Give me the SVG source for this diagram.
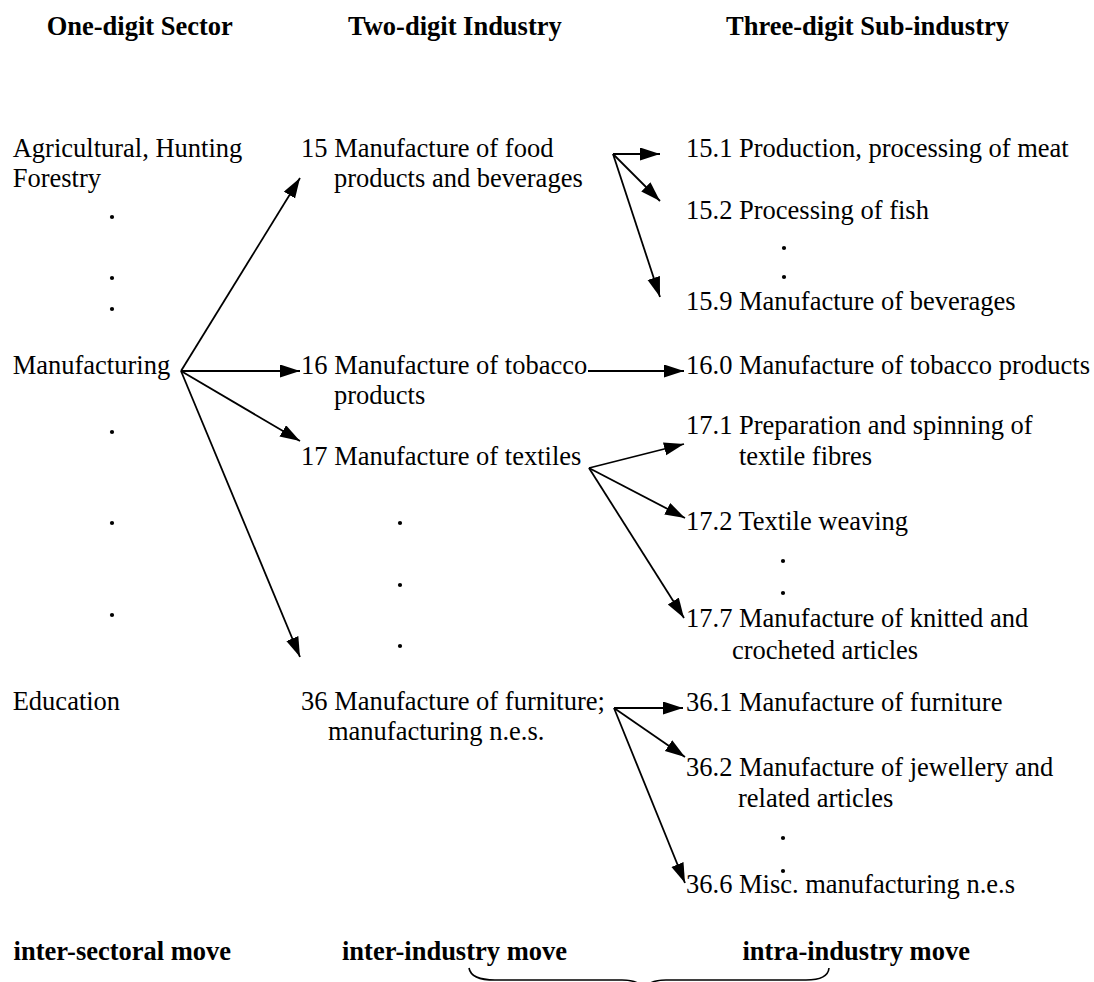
<svg xmlns="http://www.w3.org/2000/svg" width="1094" height="982" viewBox="0 0 1094 982">
<defs>
<style>
text{font-family:"Liberation Serif","Times New Roman",serif;font-size:26.5px;fill:#000}
.b{font-weight:bold}
.c line{stroke:#000;stroke-width:1.8;fill:none}
.brace{stroke:#000;stroke-width:1.6;fill:none}
.d circle{fill:#000}
</style>
<marker id="ah" markerUnits="userSpaceOnUse" markerWidth="21" markerHeight="14" refX="20" refY="6.5" orient="auto">
<path d="M0,0 L20,6.5 L0,13 z" fill="#000"/>
</marker>
</defs>
<rect width="1094" height="982" fill="#fff"/>
<g id="headers">
<text class="b" x="46.7" y="35">One-digit Sector</text>
<text class="b" x="348" y="35">Two-digit Industry</text>
<text class="b" x="726" y="35">Three-digit Sub-industry</text>
</g>
<g id="sector-agri"><text x="12.7" y="157">Agricultural, Hunting</text><text x="12.7" y="187">Forestry</text></g>
<g id="sector-dots1" class="d"><circle cx="112" cy="217" r="2.1"/><circle cx="112" cy="278" r="2.1"/><circle cx="112" cy="309" r="2.1"/></g>
<g id="sector-manufacturing"><text x="12.7" y="374">Manufacturing</text></g>
<g id="sector-dots2" class="d"><circle cx="112" cy="432" r="2.1"/><circle cx="112" cy="523" r="2.1"/><circle cx="112" cy="615" r="2.1"/></g>
<g id="sector-education"><text x="12.7" y="710">Education</text></g>
<g id="ind-15"><text x="301" y="157">15 Manufacture of food</text><text x="334" y="187">products and beverages</text></g>
<g id="ind-16"><text x="301" y="374">16 Manufacture of tobacco</text><text x="334" y="404">products</text></g>
<g id="ind-17"><text x="301" y="465">17 Manufacture of textiles</text></g>
<g id="ind-dots" class="d"><circle cx="400" cy="523" r="2.1"/><circle cx="400" cy="585" r="2.1"/><circle cx="400" cy="646" r="2.1"/></g>
<g id="ind-36"><text x="301" y="710">36 Manufacture of furniture;</text><text x="328" y="740">manufacturing n.e.s.</text></g>
<g id="sub-15-1"><text x="686" y="157">15.1 Production, processing of meat</text></g>
<g id="sub-15-2"><text x="686" y="219">15.2 Processing of fish</text></g>
<g id="sub-15-dots" class="d"><circle cx="784" cy="248" r="2.1"/><circle cx="784" cy="277" r="2.1"/></g>
<g id="sub-15-9"><text x="686" y="310">15.9 Manufacture of beverages</text></g>
<g id="sub-16-0"><text x="686" y="374">16.0 Manufacture of tobacco products</text></g>
<g id="sub-17-1"><text x="686" y="434">17.1 Preparation and spinning of</text><text x="739" y="465">textile fibres</text></g>
<g id="sub-17-2"><text x="686" y="530">17.2 Textile weaving</text></g>
<g id="sub-17-dots" class="d"><circle cx="783" cy="561" r="2.1"/><circle cx="783" cy="593" r="2.1"/></g>
<g id="sub-17-7"><text x="686" y="627">17.7 Manufacture of knitted and</text><text x="732" y="659">crocheted articles</text></g>
<g id="sub-36-1"><text x="686" y="711">36.1 Manufacture of furniture</text></g>
<g id="sub-36-2"><text x="686" y="776">36.2 Manufacture of jewellery and</text><text x="738" y="807">related articles</text></g>
<g id="sub-36-dots" class="d"><circle cx="783" cy="838" r="2.1"/><circle cx="783" cy="871" r="2.1"/></g>
<g id="sub-36-6"><text x="686" y="893">36.6 Misc. manufacturing n.e.s</text></g>
<g id="moves">
<text class="b" x="13.6" y="960">inter-sectoral move</text>
<text class="b" x="342" y="960">inter-industry move</text>
<text class="b" x="742.5" y="960">intra-industry move</text>
<path class="brace" d="M469,968 Q471,980 495,980 L622,980 Q640,980 644,990 Q648,980 666,980 L806,980 Q828,980 829,968"/>
</g>
<g id="connectors" class="c">
<line x1="181" y1="371" x2="300" y2="178" marker-end="url(#ah)"/>
<line x1="181" y1="371" x2="300" y2="371" marker-end="url(#ah)"/>
<line x1="181" y1="371" x2="300" y2="441" marker-end="url(#ah)"/>
<line x1="181" y1="371" x2="300" y2="657" marker-end="url(#ah)"/>
<line x1="613" y1="154" x2="660" y2="154" marker-end="url(#ah)"/>
<line x1="613" y1="154" x2="660" y2="201" marker-end="url(#ah)"/>
<line x1="613" y1="154" x2="660" y2="297" marker-end="url(#ah)"/>
<line x1="588" y1="371" x2="684" y2="371" marker-end="url(#ah)"/>
<line x1="589" y1="468" x2="684" y2="444" marker-end="url(#ah)"/>
<line x1="589" y1="468" x2="685" y2="518" marker-end="url(#ah)"/>
<line x1="589" y1="468" x2="684" y2="618" marker-end="url(#ah)"/>
<line x1="614" y1="708" x2="683" y2="708" marker-end="url(#ah)"/>
<line x1="614" y1="708" x2="685" y2="757" marker-end="url(#ah)"/>
<line x1="614" y1="708" x2="685" y2="883" marker-end="url(#ah)"/>
</g>
</svg>
